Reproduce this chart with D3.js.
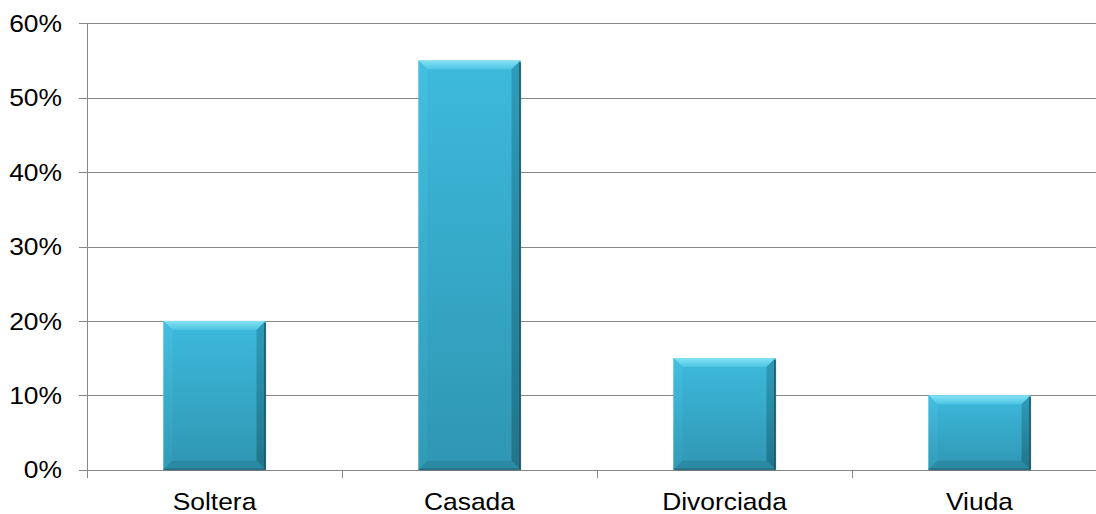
<!DOCTYPE html>
<html><head><meta charset="utf-8">
<script src="https://cdn.jsdelivr.net/npm/d3@7"></script>
<style>body{margin:0;background:#fff;}svg{display:block;}</style>
</head><body>
<svg id="chart" width="1096" height="514"></svg>
<script>
const categories = ["Soltera", "Casada", "Divorciada", "Viuda"];
const values = [0.20, 0.55, 0.15, 0.10];
const yTicks = [0, 0.1, 0.2, 0.3, 0.4, 0.5, 0.6];

(function(){
const svg = d3.select("#chart");
const W = 1096, H = 514;
const mLeft = 87, mRight = 1107, mTop = 23.3, mBottom = 469.7;
const sx = 1.1;

const x = d3.scaleBand().domain(categories).range([mLeft, mRight]).paddingInner(0.6).paddingOuter(0.3);
const xOuter = d3.scaleBand().domain(categories).range([mLeft, mRight]);
const y = d3.scaleLinear().domain([0, 0.6]).range([mBottom, mTop]);

const defs = svg.append("defs");
const g1 = defs.append("linearGradient").attr("id","body").attr("x1",0).attr("y1",0).attr("x2",0).attr("y2",1);
g1.append("stop").attr("offset","0%").attr("stop-color","#3dbadd");
g1.append("stop").attr("offset","100%").attr("stop-color","#2f96b2");
const gTop = defs.append("linearGradient").attr("id","topb").attr("x1",0).attr("y1",0).attr("x2",0).attr("y2",1);
gTop.append("stop").attr("offset","0%").attr("stop-color","#86e2f4");
gTop.append("stop").attr("offset","100%").attr("stop-color","#4cc4e4");
const gL = defs.append("linearGradient").attr("id","leftb").attr("x1",0).attr("y1",0).attr("x2",0).attr("y2",1);
gL.append("stop").attr("offset","0%").attr("stop-color","#46c0e2");
gL.append("stop").attr("offset","100%").attr("stop-color","#329cb8");
const gR = defs.append("linearGradient").attr("id","rightb").attr("x1",0).attr("y1",0).attr("x2",0).attr("y2",1);
gR.append("stop").attr("offset","0%").attr("stop-color","#2e9cbb");
gR.append("stop").attr("offset","100%").attr("stop-color","#22748a");

// gridlines
svg.append("g").selectAll("line").data(yTicks).join("line")
  .attr("x1", mLeft - 8).attr("x2", W)
  .attr("y1", d => Math.round(y(d)) + 0.5).attr("y2", d => Math.round(y(d)) + 0.5)
  .attr("stroke", "#888888").attr("stroke-width", 1);

// y axis line
svg.append("line").attr("x1", mLeft + 0.5).attr("x2", mLeft + 0.5)
  .attr("y1", Math.round(y(0.6))).attr("y2", Math.round(y(0)) + 8)
  .attr("stroke", "#888888");

// x ticks at band boundaries
svg.append("g").selectAll("line").data(categories.slice(1)).join("line")
  .attr("x1", d => Math.round(xOuter(d)) + 0.5).attr("x2", d => Math.round(xOuter(d)) + 0.5)
  .attr("y1", Math.round(y(0))).attr("y2", Math.round(y(0)) + 8)
  .attr("stroke", "#888888");

// y labels
svg.append("g").selectAll("text").data(yTicks).join("text")
  .attr("transform", d => `translate(62,${y(d)}) scale(${sx},1)`)
  .attr("dy", "0.36em")
  .attr("text-anchor", "end")
  .attr("font-family", "Liberation Sans, Arial, sans-serif").attr("font-size", 24)
  .attr("fill", "#000")
  .text(d => d3.format(".0%")(d));

// x labels
svg.append("g").selectAll("text").data(categories).join("text")
  .attr("transform", d => `translate(${x(d) + x.bandwidth()/2},510) scale(${sx},1)`)
  .attr("text-anchor", "middle")
  .attr("font-family", "Liberation Sans, Arial, sans-serif").attr("font-size", 24)
  .attr("fill", "#000")
  .text(d => d);

// bars
const bars = svg.append("g").selectAll("g").data(categories.map((c,i)=>({c, v: values[i]}))).join("g");
const bv = 9;
bars.each(function(d){
  const g = d3.select(this);
  const x0 = x(d.c), x1 = x0 + x.bandwidth();
  const y0 = y(d.v), y1 = y(0);
  g.append("rect").attr("x", x0 + 1).attr("y", y0 + 1).attr("width", x1 - x0).attr("height", y1 - y0)
    .attr("fill", "#000").attr("opacity", 0.12);
  g.append("rect").attr("x", x0).attr("y", y0).attr("width", x1 - x0).attr("height", y1 - y0).attr("fill", "url(#body)");
  g.append("polygon").attr("points", [[x0,y0],[x1,y0],[x1-bv,y0+bv],[x0+bv,y0+bv]].join(" ")).attr("fill","url(#topb)");
  g.append("polygon").attr("points", [[x0,y0],[x0+bv,y0+bv],[x0+bv,y1-bv],[x0,y1]].join(" ")).attr("fill","url(#leftb)").attr("opacity",0.8);
  g.append("polygon").attr("points", [[x1,y0],[x1,y1],[x1-bv,y1-bv],[x1-bv,y0+bv]].join(" ")).attr("fill","url(#rightb)");
  g.append("polygon").attr("points", [[x0,y1],[x1,y1],[x1-bv,y1-bv],[x0+bv,y1-bv]].join(" ")).attr("fill","#2a8aa3");
  g.append("line").attr("x1", x1-0.5).attr("x2", x1-0.5).attr("y1", y0+2).attr("y2", y1)
    .attr("stroke", "#1b5463").attr("stroke-width", 1.5);
  g.append("line").attr("x1", x0).attr("x2", x1).attr("y1", y1-0.5).attr("y2", y1-0.5)
    .attr("stroke", "#205f70").attr("stroke-width", 1);
});
})();
</script>
</body></html>
